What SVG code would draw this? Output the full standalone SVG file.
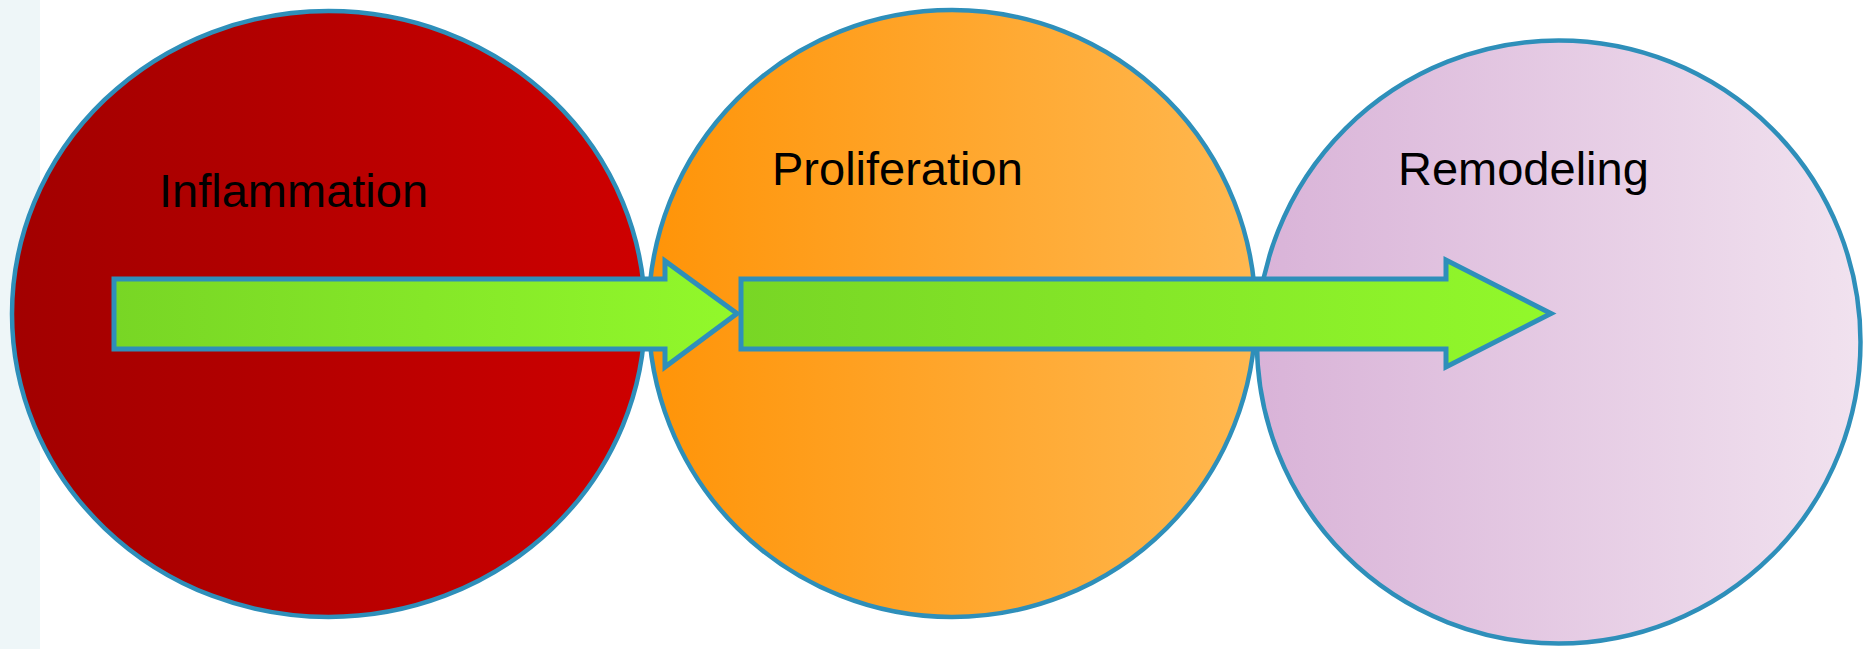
<svg xmlns="http://www.w3.org/2000/svg" width="1864" height="649" viewBox="0 0 1864 649">
  <style>
    .stage { stroke: #2e8fba; stroke-width: 4.5; }
    .arrow { stroke: #2e8fba; stroke-width: 5; stroke-linejoin: miter; fill: url(#gGreen); }
    .label { font-family: "Liberation Sans", Arial, sans-serif; font-size: 47px; fill: #000; }
  </style>
  <defs>
    <linearGradient id="gRed" x1="0" y1="0" x2="1" y2="0">
      <stop offset="0" stop-color="#a20000"/>
      <stop offset="0.35" stop-color="#b00000"/>
      <stop offset="1" stop-color="#ce0000"/>
    </linearGradient>
    <linearGradient id="gOrange" x1="0" y1="0" x2="1" y2="0">
      <stop offset="0" stop-color="#ff9408"/>
      <stop offset="1" stop-color="#ffb850"/>
    </linearGradient>
    <linearGradient id="gPink" x1="0" y1="0" x2="1" y2="0">
      <stop offset="0" stop-color="#d9b3d8"/>
      <stop offset="1" stop-color="#f1e2ef"/>
    </linearGradient>
    <linearGradient id="gGreen" x1="0" y1="0" x2="1" y2="0">
      <stop offset="0" stop-color="#78d625"/>
      <stop offset="1" stop-color="#92f82b"/>
    </linearGradient>
  </defs>

  <rect width="1864" height="649" fill="#ffffff"/>
  <rect x="0" y="0" width="40" height="649" fill="#eef6f8"/>

  <g id="inflammation">
    <ellipse class="stage" cx="328.5" cy="314" rx="316.5" ry="303" fill="url(#gRed)"/>
    <text class="label" x="159" y="207">Inflammation</text>
  </g>

  <g id="proliferation">
    <ellipse class="stage" cx="952" cy="313.5" rx="303.5" ry="303.5" fill="url(#gOrange)"/>
    <text class="label" x="772" y="184.5">Proliferation</text>
  </g>

  <g id="remodeling">
    <ellipse class="stage" cx="1558.7" cy="342" rx="301.8" ry="301.5" fill="url(#gPink)"/>
    <text class="label" x="1398" y="185">Remodeling</text>
  </g>

  <g id="connectors">
    <path class="arrow" d="M114,279 L665,279 L665,261 L737,313.5 L665,367 L665,349 L114,349 Z"/>
    <path class="arrow" d="M741,279 L1446,279 L1446,260 L1551,313.5 L1446,367 L1446,349 L741,349 Z"/>
  </g>
</svg>
